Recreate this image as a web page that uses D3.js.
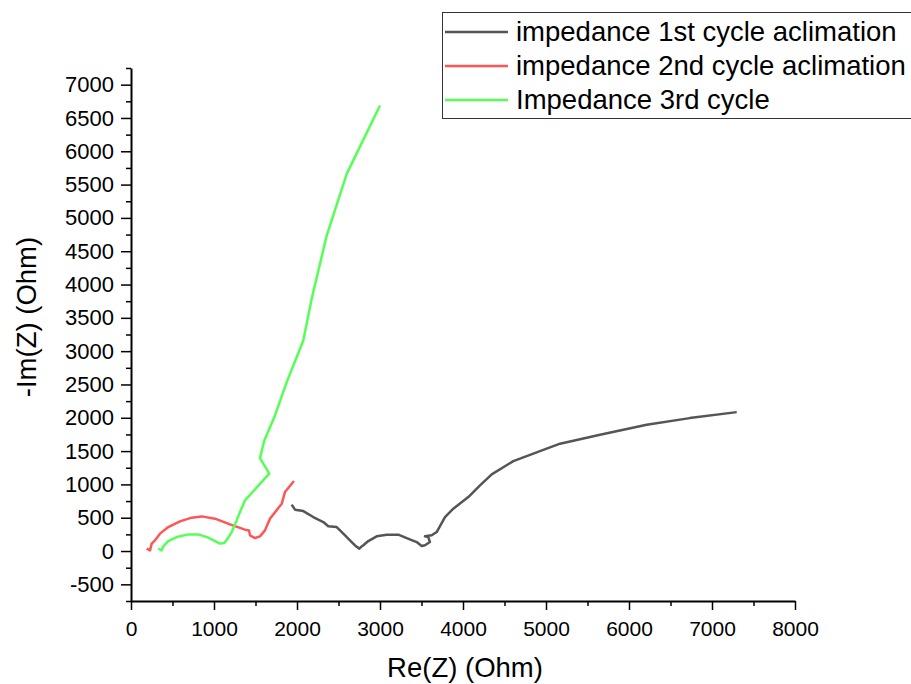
<!DOCTYPE html>
<html>
<head>
<meta charset="utf-8">
<script src="https://cdn.jsdelivr.net/npm/d3@7"></script>
<style>
  body { margin: 0; background: #fff; }
  svg { display: block; font-family: "Liberation Sans", Arial, sans-serif; }
  .axis path, .axis line { stroke: #000; }
  .axis text { fill: #000; font-family: "Liberation Sans", Arial, sans-serif; }
</style>
</head>
<body>
<svg id="chart" width="911" height="684"></svg>
<script>
// Re(Z) / -Im(Z) values (Ohm)
var cycle1Re = [1936, 1976, 2076, 2196, 2317, 2377, 2478, 2558, 2659, 2711, 2751, 2770, 2799, 2859, 2960, 3081, 3221, 3322, 3442, 3502, 3542, 3602, 3582, 3542, 3623, 3683, 3783, 3883, 4064, 4205, 4346, 4606, 5169, 5651, 6213, 6731, 7298];
var cycle1Im = [696, 621, 600, 510, 435, 371, 360, 261, 135, 71, 36, 60, 86, 150, 221, 246, 246, 195, 135, 75, 86, 135, 210, 221, 236, 285, 510, 636, 810, 986, 1151, 1350, 1611, 1746, 1896, 1995, 2085];

var cycle2Re = [189, 229, 249, 289, 349, 449, 590, 731, 852, 1012, 1193, 1373, 1422, 1434, 1494, 1554, 1614, 1674, 1816, 1855, 1964];
var cycle2Im = [36, 10, 111, 160, 261, 360, 445, 501, 520, 486, 400, 321, 310, 235, 195, 220, 310, 486, 711, 885, 1050];

var cycle3Re = [329, 370, 389, 449, 551, 690, 811, 931, 1072, 1124, 1172, 1213, 1273, 1313, 1373, 1666, 1554, 1606, 1735, 1876, 2076, 2177, 2358, 2599, 3000];
var cycle3Im = [36, 10, 71, 150, 210, 250, 250, 201, 111, 120, 201, 285, 460, 585, 760, 1161, 1395, 1660, 2035, 2535, 3160, 3786, 4735, 5661, 6686];

var seriesNames = ['impedance 1st cycle aclimation', 'impedance 2nd cycle aclimation', 'Impedance 3rd cycle'];
var seriesColors = ['#555555', '#ff5555', '#55ff55'];

var xMajor = [0, 1000, 2000, 3000, 4000, 5000, 6000, 7000, 8000];
var yMajor = [-500, 0, 500, 1000, 1500, 2000, 2500, 3000, 3500, 4000, 4500, 5000, 5500, 6000, 6500, 7000];

var svg = d3.select('#chart');

var x = d3.scaleLinear().domain([0, 8000]).range([131, 795]);
var y = d3.scaleLinear().domain([-750, 7250]).range([601, 68]);

// plain hyphen for negative labels, like the original
var fmt = function (d) { return String(d); };

// minor ticks
var xMinor = d3.range(500, 8000, 1000);
var yMinor = d3.range(-750, 7500, 500);

svg.append('g')
  .attr('class', 'axis')
  .attr('transform', 'translate(0,601)')
  .call(d3.axisBottom(x).tickValues(xMinor).tickSize(5).tickFormat(''))
  .call(function (g) { g.select('.domain').remove(); })
  .selectAll('line').attr('stroke-width', 1.5);

svg.append('g')
  .attr('class', 'axis')
  .attr('transform', 'translate(131,0)')
  .call(d3.axisLeft(y).tickValues(yMinor).tickSize(5).tickFormat(''))
  .call(function (g) { g.select('.domain').remove(); })
  .selectAll('line').attr('stroke-width', 1.5);

var xAxis = svg.append('g')
  .attr('class', 'axis')
  .attr('transform', 'translate(0,601)')
  .call(d3.axisBottom(x).tickValues(xMajor).tickSize(9).tickSizeOuter(0).tickPadding(11).tickFormat(fmt));
xAxis.select('.domain').attr('stroke-width', 2);
xAxis.selectAll('line').attr('stroke-width', 1.5);
xAxis.selectAll('text').attr('font-size', '21px');

var yAxis = svg.append('g')
  .attr('class', 'axis')
  .attr('transform', 'translate(131,0)')
  .call(d3.axisLeft(y).tickValues(yMajor).tickSize(10).tickSizeOuter(0).tickPadding(7).tickFormat(fmt));
yAxis.select('.domain').attr('stroke-width', 2);
yAxis.selectAll('line').attr('stroke-width', 1.5);
yAxis.selectAll('text').attr('font-size', '22px');

// axis titles
svg.append('text')
  .attr('x', 465)
  .attr('y', 677)
  .attr('text-anchor', 'middle')
  .attr('font-size', '27.5px')
  .text('Re(Z) (Ohm)');

svg.append('text')
  .attr('transform', 'translate(36,317) rotate(-90)')
  .attr('text-anchor', 'middle')
  .attr('font-size', '27.5px')
  .text('-Im(Z) (Ohm)');

// curves
var series = [
  { re: cycle1Re, im: cycle1Im },
  { re: cycle2Re, im: cycle2Im },
  { re: cycle3Re, im: cycle3Im }
];

var line = d3.line()
  .x(function (d) { return x(d[0]); })
  .y(function (d) { return y(d[1]); });

series.forEach(function (s, i) {
  var pts = s.re.map(function (v, j) { return [v, s.im[j]]; });
  svg.append('path')
    .datum(pts)
    .attr('fill', 'none')
    .attr('stroke', seriesColors[i])
    .attr('stroke-width', 2.5)
    .attr('stroke-linejoin', 'round')
    .attr('d', line);
});

// legend
var legend = svg.append('g');
legend.append('rect')
  .attr('x', 442.5)
  .attr('y', 12.5)
  .attr('width', 480)
  .attr('height', 106)
  .attr('fill', '#fff')
  .attr('stroke', '#333')
  .attr('stroke-width', 1);

var rows = legend.selectAll('.row')
  .data(seriesNames)
  .enter()
  .append('g')
  .attr('transform', function (d, i) { return 'translate(0,' + (32 + i * 34) + ')'; });

rows.append('line')
  .attr('x1', 445).attr('x2', 508)
  .attr('stroke', function (d, i) { return seriesColors[i]; })
  .attr('stroke-width', 2.5);

rows.append('text')
  .attr('x', 516)
  .attr('y', 9)
  .attr('font-size', '27.5px')
  .text(function (d) { return d; });
</script>
</body>
</html>
